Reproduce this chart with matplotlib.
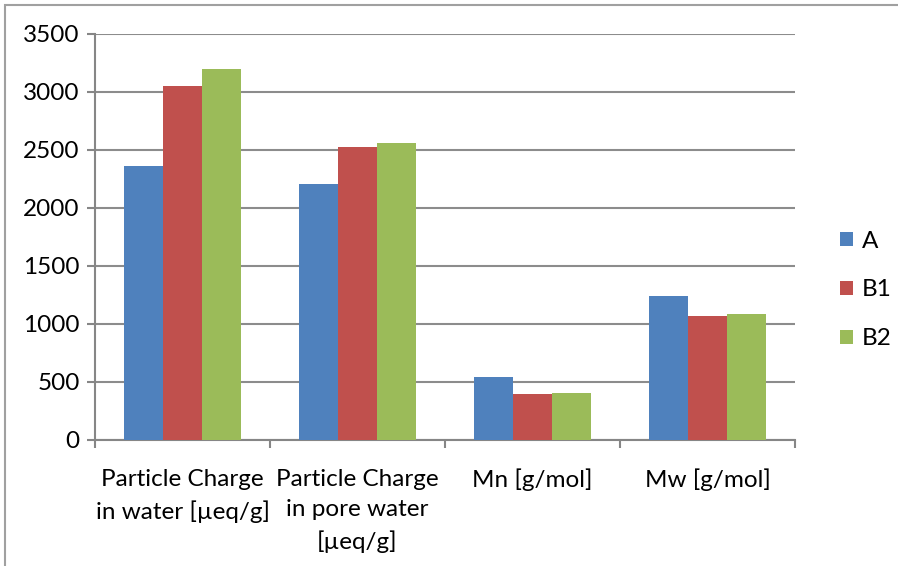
import matplotlib
matplotlib.use("Agg")
import matplotlib.pyplot as plt
from matplotlib.patches import Rectangle
import numpy as np

categories = ["Particle Charge\nin water [µeq/g]", "Particle Charge\nin pore water\n[µeq/g]",
              "Mn [g/mol]", "Mw [g/mol]"]
series_names = ["A", "B1", "B2"]
values_A = [2360, 2200, 540, 1240]
values_B1 = [3050, 2520, 395, 1065]
values_B2 = [3190, 2555, 403, 1082]
colors = ["#4F81BD", "#C0504D", "#9BBB59"]
yticks = [0, 500, 1000, 1500, 2000, 2500, 3000, 3500]

plt.rcParams['font.family'] = ['Lato', 'DejaVu Sans']
fig = plt.figure(figsize=(8.98, 5.66), dpi=100)
ax = fig.add_axes([95/898, 1-439.7/566, 700/898, (439.7-33.5)/566])

x = np.arange(len(categories))
w = 0.223
for i, (vals, name) in enumerate(zip([values_A, values_B1, values_B2], series_names)):
    ax.bar(x + (i-1)*w, vals, width=w, color=colors[i], label=name, zorder=3)

ax.set_xlim(-0.5, len(categories)-0.5)
ax.set_ylim(0, 3500)
ax.set_yticks(yticks)
ax.set_yticklabels([str(v) for v in yticks], fontsize=17.5)
ax.yaxis.grid(True, color="#8c8c8c", linewidth=1.5, zorder=0)
ax.set_axisbelow(True)

ax.set_xticks(np.arange(len(categories)+1) - 0.5, minor=False)
ax.set_xticklabels([])
ax.set_xticks(x, minor=True)
ax.set_xticklabels(categories, minor=True, fontsize=17.5, linespacing=1.55, va='top')
ax.tick_params(axis='x', which='minor', length=0, pad=21)
ax.tick_params(axis='x', which='major', length=6, width=1.5, color="#868686", direction='out')
ax.tick_params(axis='y', length=6, width=1.5, color="#868686", pad=5)

for s in ['top', 'right']:
    ax.spines[s].set_visible(False)
for s in ['left', 'bottom']:
    ax.spines[s].set_color("#868686")
    ax.spines[s].set_linewidth(1.5)

leg = ax.legend(loc='center left', bbox_to_anchor=(830/898, 1-290/566), bbox_transform=fig.transFigure,
                frameon=False, fontsize=17.5, handlelength=0.55, handleheight=0.55,
                handletextpad=0.35, labelspacing=1.15, borderaxespad=0)

fig.patches.append(Rectangle((4.5/898, -0.2), 1.5, 1.2 - 4.5/566, transform=fig.transFigure,
                             fill=False, edgecolor="#a0a0a0", linewidth=1.5))

fig.savefig("out.png", dpi=100)
